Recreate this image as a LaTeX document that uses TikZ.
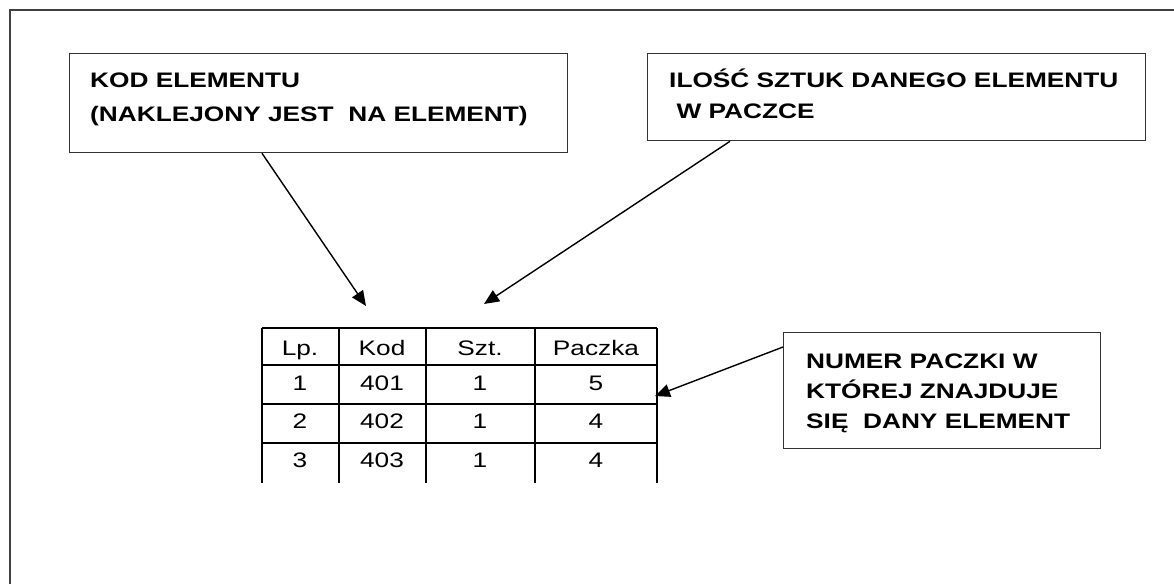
\documentclass[tikz,border=0pt]{standalone}
\usepackage{fontspec}
\newfontfamily\arialw{Liberation Sans}[FakeStretch=1.25]
\usetikzlibrary{arrows.meta,calc}
\begin{document}
\begin{tikzpicture}[x=1pt,y=-1pt,
  frame/.style={draw=black!75,line width=1.6pt},
  box/.style={draw=black!80,line width=1.3pt,minimum width=#1,inner sep=0pt,anchor=north west},
  lbl/.style={font=\arialw\bfseries\fontsize{21}{31}\selectfont,align=left,anchor=base west,inner sep=0pt},
  cell/.style={font=\arialw\fontsize{21}{25}\selectfont,anchor=base,inner sep=0pt},
  grid/.style={line width=1.4pt,black},
  arr/.style={line width=1.4pt,-{Triangle[length=15pt,width=13pt]}}]
\useasboundingbox (0,0) rectangle (1174,584);
\draw[frame] (10,584) -- (10,10) -- (1174,10);
% boxes
\node[box=498pt,minimum height=99pt] (kod) at (69,53) {};
\node[box=498pt,minimum height=87pt] (ilosc) at (647,53) {};
\node[box=317pt,minimum height=116pt] (numer) at (783,332) {};
% box texts
\node[lbl] (tkod1) at (90,87) {KOD ELEMENTU};
\node[lbl] (tkod2) at (90,121) {(NAKLEJONY JEST\ \ NA ELEMENT)};
\node[lbl] (til1) at (669,87) {ILOŚĆ SZTUK DANEGO ELEMENTU};
\node[lbl] (til2) at (669,118) {\ W PACZCE};
\node[lbl] (tn1) at (806,368) {NUMER PACZKI W};
\node[lbl] (tn2) at (806,398) {KTÓREJ ZNAJDUJE};
\node[lbl] (tn3) at (806,428) {SIĘ\ \ DANY ELEMENT};
% table grid
\foreach \x in {262,339,426,535,657} \draw[grid] (\x,328) -- (\x,483);
\foreach \y in {328,365,404,443} \draw[grid] (262,\y) -- (657,\y);
% table cells
\node[cell] (h1) at (300,355) {Lp.};
\node[cell] (h2) at (382,355) {Kod};
\node[cell] (h3) at (480,355) {Szt.};
\node[cell] (h4) at (596,355) {Paczka};
\node[cell] (r11) at (300,390) {1};
\node[cell] (r12) at (382,390) {401};
\node[cell] (r13) at (480,390) {1};
\node[cell] (r14) at (596,390) {5};
\node[cell] (r21) at (300,428) {2};
\node[cell] (r22) at (382,428) {402};
\node[cell] (r23) at (480,428) {1};
\node[cell] (r24) at (596,428) {4};
\node[cell] (r31) at (300,467) {3};
\node[cell] (r32) at (382,467) {403};
\node[cell] (r33) at (480,467) {1};
\node[cell] (r34) at (596,467) {4};
% arrows
\coordinate (e1) at (366,306);
\coordinate (e2) at (484,304);
\coordinate (e3) at (655,396);
\draw[arr] ($(kod.south west)+(193,0)$) -- (e1);
\draw[arr] ($(ilosc.south west)+(83,0)$) -- (e2);
\draw[arr] ($(numer.north west)+(0,15)$) -- (e3);
\end{tikzpicture}
\end{document}
